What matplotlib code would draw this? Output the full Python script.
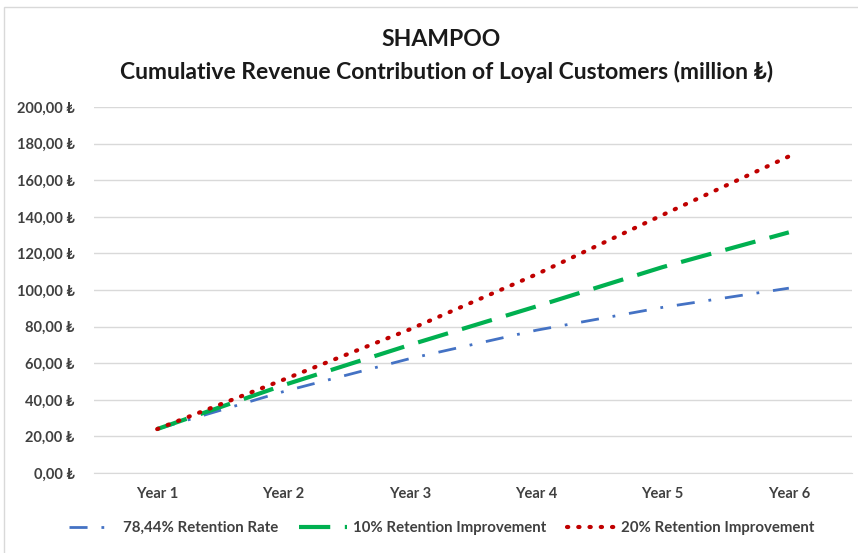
import matplotlib.pyplot as plt
from matplotlib.patches import Rectangle
from matplotlib.ticker import FuncFormatter

# values (million TL)
years = ['Year 1', 'Year 2', 'Year 3', 'Year 4', 'Year 5', 'Year 6']
base_rate = [24.0, 44.5, 62.5, 78.0, 90.5, 101.0]
improve_10 = [24.0, 48.0, 70.0, 91.0, 112.5, 131.5]
improve_20 = [24.0, 51.0, 78.5, 108.5, 141.0, 173.0]
labels = ['78,44% Retention Rate', '10% Retention Improvement', '20% Retention Improvement']

plt.rcParams['font.family'] = ['Lato', 'DejaVu Sans']

fig = plt.figure(figsize=(8.58, 5.53), dpi=100)
fig.patches.append(Rectangle((4 / 858, -0.01), 1.0, 1 - 7 / 553 + 0.01,
                             transform=fig.transFigure, fill=False,
                             edgecolor='#D9D9D9', linewidth=1))
ax = fig.add_axes([94 / 858, 1 - 473 / 553, (852 - 94) / 858, (473 - 107) / 553])

x = range(len(years))
ax.plot(x, base_rate, color='#4472C4', linewidth=2, dashes=(6.5, 5, 1, 5),
        label=labels[0])
ax.plot(x, improve_10, color='#00B050', linewidth=3, dashes=(7.5, 3.5),
        label=labels[1])
ax.plot(x, improve_20, color='#C00000', linewidth=3, linestyle=(0, (0.3, 2.4)),
        dash_capstyle='round', label=labels[2])

ax.set_xlim(-0.5, len(years) - 0.5)
ax.set_ylim(0, 200)
ax.set_yticks(range(0, 201, 20))
ax.yaxis.set_major_formatter(FuncFormatter(lambda v, p: f'{v:.2f}'.replace('.', ',') + ' ₺'))
ax.set_xticks(list(x))
ax.set_xticklabels(years)
ax.tick_params(axis='both', length=0, labelsize=10.5, colors='#404040')
ax.tick_params(axis='x', pad=10)
ax.tick_params(axis='y', pad=14)
for t in ax.get_xticklabels() + ax.get_yticklabels():
    t.set_fontweight('bold')

ax.grid(axis='y', color='#D9D9D9', linewidth=1)
ax.set_axisbelow(True)
for s in ['top', 'right', 'left']:
    ax.spines[s].set_visible(False)
ax.spines['bottom'].set_color('#D9D9D9')

fig.text(0.514, 1 - 40 / 553, 'SHAMPOO', ha='center', va='center',
         fontsize=16.5, fontweight='bold', color='#1a1a1a')
fig.text(0.52, 1 - 72 / 553, 'Cumulative Revenue Contribution of Loyal Customers (million ₺)',
         ha='center', va='center', fontsize=16.5, fontweight='bold', color='#1a1a1a')

leg = fig.legend(loc='center', bbox_to_anchor=(0.515, 1 - 528 / 553), ncol=3,
                 frameon=False, fontsize=10.8, handlelength=3.2, columnspacing=1.4,
                 handletextpad=0.4)
for t in leg.get_texts():
    t.set_color('#404040')
    t.set_fontweight('bold')

fig.savefig('out.png', dpi=100)
